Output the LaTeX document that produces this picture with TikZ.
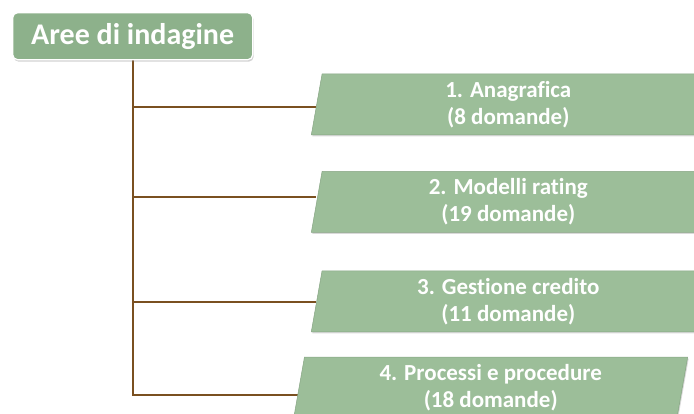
\documentclass[tikz,border=0pt]{standalone}
\usepackage{fontspec}
\setmainfont{Carlito}[Ligatures=NoCommon]
\usetikzlibrary{shapes.geometric,shadows,backgrounds,calc}
\definecolor{RootClr}{RGB}{141,177,139}
\definecolor{BoxClr}{RGB}{156,190,153}
\definecolor{BoxEdgeClr}{RGB}{135,165,132}
\definecolor{LinkClr}{RGB}{122,80,32}

\tikzset{
  root/.style={rectangle,rounded corners=5pt,fill=RootClr,draw=white,line width=1.2pt,
    text=white,font=\fontsize{30}{34}\selectfont\bfseries,
    minimum width=240pt,minimum height=47pt,inner sep=0pt,
    drop shadow={shadow xshift=1pt,shadow yshift=-2pt,opacity=.35}},
  area/.style={trapezium,trapezium left angle=77,trapezium right angle=103,
    trapezium stretches body=true,fill=BoxClr,draw=BoxEdgeClr,line width=.5pt,
    text=white,font=\fontsize{23}{27}\selectfont\bfseries,align=center,
    minimum width=394pt,minimum height=61pt,inner sep=0pt,
    drop shadow={shadow xshift=1pt,shadow yshift=-1.5pt,opacity=.3}},
  link/.style={draw=LinkClr,line width=2.3pt}
}

\begin{document}
\begin{tikzpicture}[x=1pt,y=-1pt]
\useasboundingbox (0,0) rectangle (694,414);
\clip (0,0) rectangle (694,414);

\node[root] (root) at (132.7,36.2) {Aree di indagine};

% The four survey areas.
\node[area] (a1) at (508.3,104.5) {1. Anagrafica\\(8 domande)};
\node[area] (a2) at (508.3,202) {2. Modelli rating\\(19 domande)};
\node[area] (a3) at (508.3,301.3) {3. Gestione credito\\(11 domande)};
\node[area] (a4) at (490.7,387.5) {4. Processi e procedure\\(18 domande)};

% Junction points on the spine.
\coordinate (j1) at (132.7,107);
\coordinate (j2) at (132.7,197);
\coordinate (j3) at (132.7,302);
\coordinate (j4) at (132.7,395);

\begin{pgfonlayer}{background}
\draw[link] (root.south) -- (j4) -- (j4 -| a4.west);
\draw[link] (j1) -- (j1 -| a1.west);
\draw[link] (j2) -- (j2 -| a2.west);
\draw[link] (j3) -- (j3 -| a3.west);
\end{pgfonlayer}

\end{tikzpicture}
\end{document}
